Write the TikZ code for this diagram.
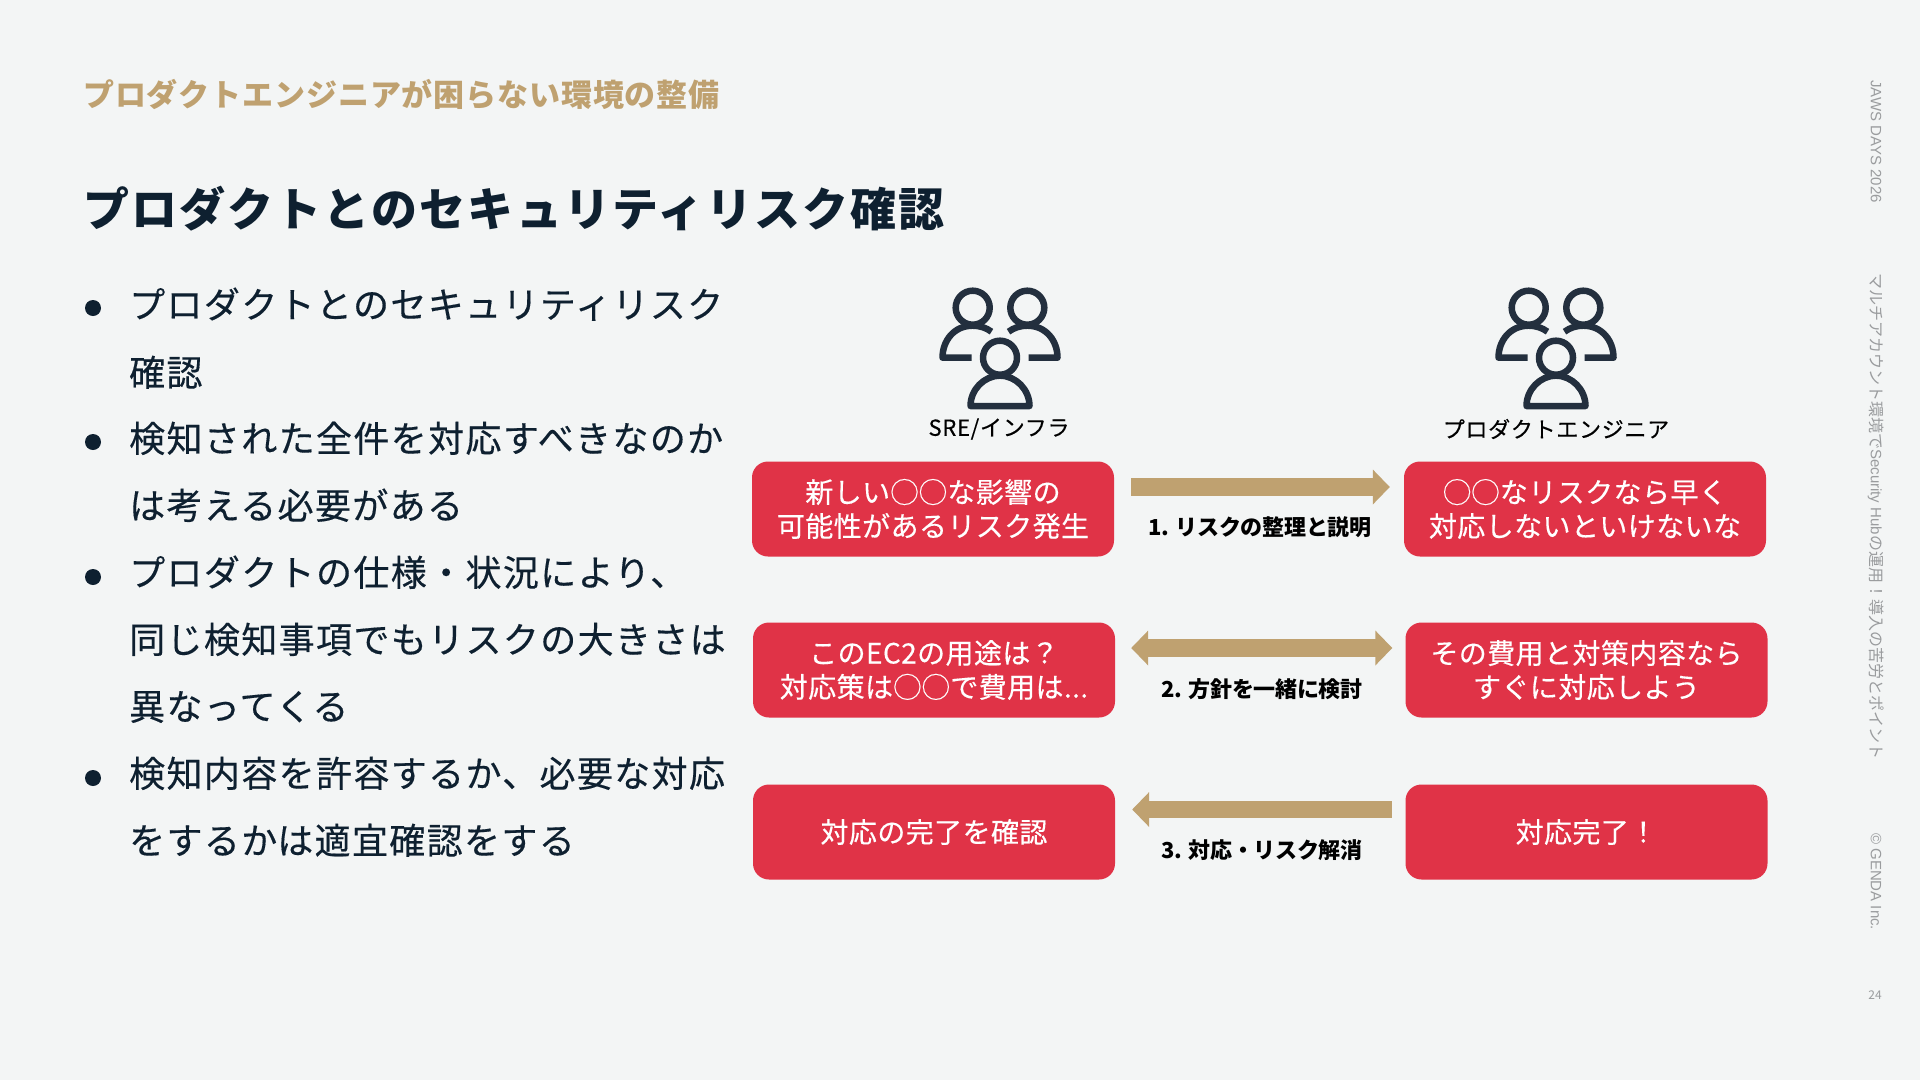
\documentclass[tikz,border=0pt]{standalone}
\usepackage{fontspec}
\usetikzlibrary{arrows.meta}
\setmainfont{Noto Sans CJK JP}
\newfontfamily\jpm[FakeBold=0.35]{Noto Sans CJK JP}
\newfontfamily\latn{Liberation Sans}
\definecolor{bgc}{HTML}{F3F5F5}
\definecolor{redc}{HTML}{E03347}
\definecolor{tanc}{HTML}{BFA170}
\definecolor{navyc}{HTML}{0E2030}
\definecolor{iconc}{HTML}{232F3E}
\definecolor{grayc}{HTML}{9A9C9E}
\newcommand{\fsz}[3]{\fontsize{#1}{#2}\selectfont\addfontfeature{LetterSpace=#3}}
\newcommand{\sidelat}[1]{{\latn\fontsize{15}{18}\selectfont #1}}
\tikzset{
 x=1pt,y=-1pt,
 redbox/.style={fill=redc,rounded corners=16pt,minimum width=362pt,minimum height=95pt,inner sep=0pt,text=white,align=center,font=\jpm\fsz{28}{34}{1.5}},
 bul/.style={anchor=base west,inner sep=0pt,text=navyc,font=\jpm\fsz{36}{40}{3.8}},
 bdot/.style={circle,fill=navyc,minimum size=16pt,inner sep=0pt},
 flow/.style={draw=tanc,line width=17.5pt},
 steplab/.style={inner sep=0pt,text=black,font=\bfseries\fsz{22}{26}{-1.2}},
 whom/.style={inner sep=0pt,text=black,font=\jpm\fsz{22}{26}{3.2}},
 side/.style={inner sep=0pt,anchor=west,rotate=-90,text=grayc,font=\fsz{16}{18}{0}},
 peopleline/.style={draw=iconc,line width=6.5pt,line join=round,line cap=butt},
 people/.pic={
  \draw[peopleline] (-27.3,-50) circle (17);
  \draw[peopleline] (27.3,-50) circle (17);
  \draw[peopleline] (0,0) circle (17);
  \draw[peopleline] (-8.5,-26) .. controls (-14,-30) and (-20,-32) .. (-27.5,-32) .. controls (-46,-32) and (-57.5,-17) .. (-57.5,0) -- (-28.5,0);
  \draw[peopleline] (8.5,-26) .. controls (14,-30) and (20,-32) .. (27.5,-32) .. controls (46,-32) and (57.5,-17) .. (57.5,0) -- (28.5,0);
  \draw[peopleline,line join=round] (-29.5,48.3) .. controls (-29.5,32) and (-16,18) .. (0,18) .. controls (16,18) and (29.5,32) .. (29.5,48.3) -- cycle;
 },
}
\begin{document}
\begin{tikzpicture}
\useasboundingbox[fill=bgc] (0,0) rectangle (1920,1080);
\node[anchor=base west,inner sep=0pt,text=tanc,font=\bfseries\fsz{31}{36}{2.8}] (sub) at (83,106) {プロダクトエンジニアが困らない環境の整備};
\node[anchor=base west,inner sep=0pt,text=navyc,font=\bfseries\fsz{46}{50}{4.7}] (ttl) at (83,226) {プロダクトとのセキュリティリスク確認};

\node[bdot] (d1) at (93,308) {};
\node[bdot] (d2) at (93,442) {};
\node[bdot] (d3) at (93,577) {};
\node[bdot] (d4) at (93,778) {};
\node[bul] (l1) at (129,318) {プロダクトとのセキュリティリスク};
\node[bul] (l2) at (129,386) {確認};
\node[bul] (l3) at (129,452) {検知された全件を対応すべきなのか};
\node[bul] (l4) at (129,519) {は考える必要がある};
\node[bul] (l5) at (129,586) {プロダクトの仕様・状況により、};
\node[bul] (l6) at (129,653) {同じ検知事項でもリスクの大きさは};
\node[bul] (l7) at (129,720) {異なってくる};
\node[bul] (l8) at (129,787) {検知内容を許容するか、必要な対応};
\node[bul] (l9) at (129,854) {をするかは適宜確認をする};

\pic at (1000,357.7) {people};
\pic at (1556,357.7) {people};
\node[whom] (wa) at (999,429) {SRE/インフラ};
\node[whom] (wb) at (1556,429) {プロダクトエンジニア};

\node[redbox] (a1) at (933,509) {新しい◯◯な影響の\\可能性があるリスク発生};
\node[redbox] (b1) at (1585,509) {◯◯なリスクなら早く\\対応しないといけないな};
\node[redbox] (a2) at (934,670) {このEC2の用途は？\\対応策は◯◯で費用は...};
\node[redbox] (b2) at (1586.5,670) {その費用と対策内容なら\\すぐに対応しよう};
\node[redbox] (a3) at (934,832) {対応の完了を確認};
\node[redbox] (b3) at (1586.5,832) {対応完了！};

\draw[flow,-{Triangle[length=17pt 0 0,width=34pt 0 0]}] ([shift={(17,-22)}]a1.east) -- ([shift={(-14,-22)}]b1.west);
\draw[flow,{Triangle[length=17pt 0 0,width=34pt 0 0]}-{Triangle[length=17pt 0 0,width=34pt 0 0]}] ([shift={(16,-22)}]a2.east) -- ([shift={(-13,-22)}]b2.west);
\draw[flow,{Triangle[length=17pt 0 0,width=34pt 0 0]}-] ([shift={(17,-22.5)}]a3.east) -- ([shift={(-13,-22.5)}]b3.west);

\node[steplab] (s1) at (1260,527) {1. リスクの整理と説明};
\node[steplab] (s2) at (1262,689) {2. 方針を一緒に検討};
\node[steplab] (s3) at (1262,850) {3. 対応・リスク解消};

\node[side] (v1) at (1876,80) {\sidelat{JAWS DAYS 2026}};
\node[side] (v2) at (1876,273) {マルチアカウント環境で\sidelat{Security Hub}の運用！導入の苦労とポイント};
\node[side] (v3) at (1876,833) {\sidelat{© GENDA Inc.}};
\node[inner sep=0pt,text=grayc,font=\fsz{12}{14}{0}] (pg) at (1875,995) {24};
\end{tikzpicture}
\end{document}
